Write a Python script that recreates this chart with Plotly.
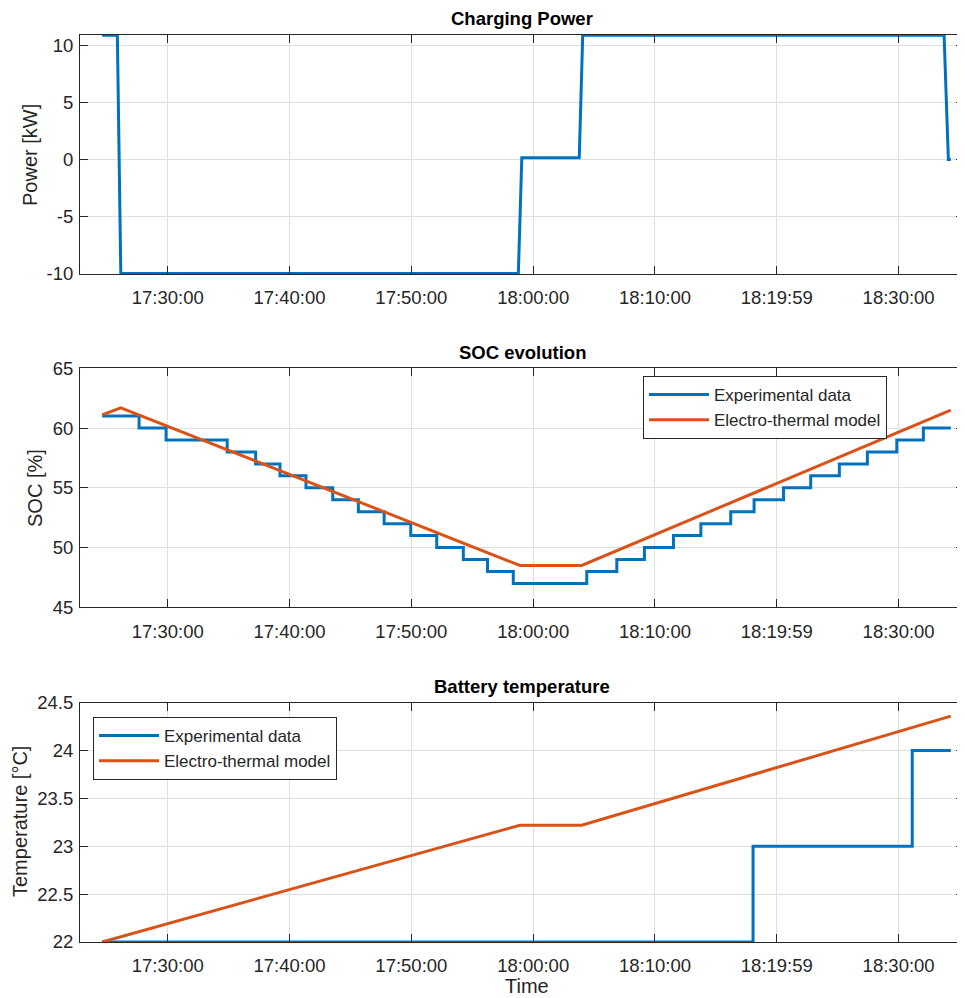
import plotly.graph_objects as go

DAY = "2020-01-01 "

# ---- Data ----
power_time = ["17:24:37", "17:25:52", "17:26:09", "17:58:47", "17:59:04",
              "18:03:47", "18:04:04", "18:33:44", "18:34:05", "18:34:17"]
power_kw = [10.9, 10.9, -10.0, -10.0, 0.15, 0.15, 10.9, 10.9, 0.0, 0.0]

soc_exp_time = ["17:24:37", "17:27:39", "17:29:52", "17:34:53", "17:37:13", "17:39:13",
                "17:41:21", "17:43:33", "17:45:39", "17:47:46", "17:49:57", "17:52:05",
                "17:54:16", "17:56:15", "17:58:22", "18:04:24", "18:06:52", "18:09:08",
                "18:11:31", "18:13:46", "18:16:13", "18:18:08", "18:20:33", "18:22:47",
                "18:25:08", "18:27:26", "18:29:51", "18:32:02", "18:34:17"]
soc_exp = [61, 60, 59, 58, 57, 56, 55, 54, 53, 52, 51, 50, 49, 48, 47,
           48, 49, 50, 51, 52, 53, 54, 55, 56, 57, 58, 59, 60, 60]

soc_model_time = ["17:24:37", "17:26:09", "17:58:55", "18:03:59", "18:34:17"]
soc_model = [61.1, 61.7, 48.5, 48.5, 61.5]

temp_exp_time = ["17:24:37", "18:18:03", "18:31:07", "18:34:17"]
temp_exp = [22, 23, 24, 24]

temp_model_time = ["17:24:37", "17:58:55", "18:03:59", "18:34:17"]
temp_model = [22.0, 23.22, 23.22, 24.36]

x_tick_times = ["17:30:00", "17:40:00", "17:50:00", "18:00:00", "18:10:00", "18:19:59.999", "18:30:00"]
x_tick_labels = ["17:30:00", "17:40:00", "17:50:00", "18:00:00", "18:10:00", "18:19:59", "18:30:00"]
x_limits = ["17:22:48", "18:35:22"]

power_ticks = [-10, -5, 0, 5, 10]
power_tick_labels = ["-10", "-5", "0", "5", "10"]
soc_ticks = [45, 50, 55, 60, 65]
temp_ticks = [22, 22.5, 23, 23.5, 24, 24.5]
temp_tick_labels = ["22", "22.5", "23", "23.5", "24", "24.5"]

BLUE = "#0072BD"
ORANGE = "#D95319"
AX = "#262626"
GRID = "#dfdfdf"
FONT = "Liberation Sans, Arial, sans-serif"


def d(ts):
    return [DAY + t for t in ts]


fig = go.Figure()

fig.add_trace(go.Scatter(x=d(power_time), y=power_kw, mode="lines",
                         line=dict(color=BLUE, width=3), showlegend=False,
                         xaxis="x", yaxis="y"))

fig.add_trace(go.Scatter(x=d(soc_exp_time), y=soc_exp, mode="lines",
                         line=dict(color=BLUE, width=3, shape="hv"),
                         name="Experimental data", legend="legend",
                         xaxis="x2", yaxis="y2"))
fig.add_trace(go.Scatter(x=d(soc_model_time), y=soc_model, mode="lines",
                         line=dict(color=ORANGE, width=3),
                         name="Electro-thermal model", legend="legend",
                         xaxis="x2", yaxis="y2"))

fig.add_trace(go.Scatter(x=d(temp_exp_time), y=temp_exp, mode="lines",
                         line=dict(color=BLUE, width=3, shape="hv"),
                         name="Experimental data", legend="legend2",
                         xaxis="x3", yaxis="y3"))
fig.add_trace(go.Scatter(x=d(temp_model_time), y=temp_model, mode="lines",
                         line=dict(color=ORANGE, width=3),
                         name="Electro-thermal model", legend="legend2",
                         xaxis="x3", yaxis="y3"))

# screen coords (page has an 8px body margin); paper coords derived from them
H_TOT = 907.0
BOT = 942.0
W_TOT = 884.0
LEFT = 80.0


def py(sy):
    return (BOT - sy) / H_TOT


def px(sx):
    return (sx - LEFT) / W_TOT


def dom(top_px, bot_px):
    return [py(bot_px), py(top_px)]


TICKFONT = dict(size=18.5, color=AX, family=FONT)
common_x = dict(type="date", range=d(x_limits), tickvals=d(x_tick_times),
                ticktext=x_tick_labels, showgrid=True, gridcolor=GRID, gridwidth=1,
                showline=True, linecolor=AX, linewidth=1, mirror="ticks",
                ticks="inside", ticklen=8, tickcolor=AX, ticklabelstandoff=7,
                tickfont=TICKFONT, zeroline=False, domain=[0, 1])
common_y = dict(showgrid=True, gridcolor=GRID, gridwidth=1,
                showline=True, linecolor=AX, linewidth=1, mirror="ticks",
                ticks="inside", ticklen=8, tickcolor=AX, ticklabelstandoff=2,
                tickfont=TICKFONT, zeroline=False)

fig.update_layout(
    width=965, height=998,
    margin=dict(l=72, r=9, t=27, b=64, autoexpand=False),
    paper_bgcolor="white", plot_bgcolor="white",
    font=dict(family=FONT, color=AX),
    xaxis=dict(common_x, anchor="y"),
    xaxis2=dict(common_x, anchor="y2"),
    xaxis3=dict(common_x, anchor="y3"),
    yaxis=dict(common_y, domain=dom(35, 274), range=[-10.05, 10.92], tickvals=power_ticks,
               ticktext=power_tick_labels, anchor="x"),
    yaxis2=dict(common_y, domain=dom(368.3, 607.3), range=[45, 65], tickvals=soc_ticks,
                anchor="x2"),
    yaxis3=dict(common_y, domain=dom(702.7, 942), range=[22, 24.5], tickvals=temp_ticks,
                ticktext=temp_tick_labels, anchor="x3"),
    legend=dict(x=px(643), y=py(376), xanchor="left", yanchor="top",
                bgcolor="white", bordercolor=AX, borderwidth=1, itemwidth=60,
                font=dict(size=17, color=AX, family=FONT), tracegroupgap=0),
    legend2=dict(x=px(93), y=py(717), xanchor="left", yanchor="top",
                 bgcolor="white", bordercolor=AX, borderwidth=1, itemwidth=60,
                 font=dict(size=17, color=AX, family=FONT), tracegroupgap=0),
)

titles = [("Charging Power", 35), ("SOC evolution", 368.3), ("Battery temperature", 702.7)]
for text, top_px in titles:
    fig.add_annotation(text="<b>%s</b>" % text, xref="paper", yref="paper",
                       x=0.5, y=py(top_px - 16), xanchor="center", yanchor="middle",
                       showarrow=False, font=dict(size=18.5, color="black", family=FONT))

LABELFONT = dict(size=20, color=AX, family=FONT)
ytitles = [("Power [kW]", 30, 155), ("SOC [%]", 35, 488), ("Temperature [°C]", 20, 822)]
for text, sx, sy in ytitles:
    fig.add_annotation(text=text, xref="paper", yref="paper", x=px(sx), y=py(sy),
                       xanchor="center", yanchor="middle", textangle=-90,
                       showarrow=False, font=LABELFONT)

fig.add_annotation(text="Time", xref="paper", yref="paper", x=px(526.7), y=py(986),
                   xanchor="center", yanchor="middle", showarrow=False, font=LABELFONT)

fig.write_html("out.html")
